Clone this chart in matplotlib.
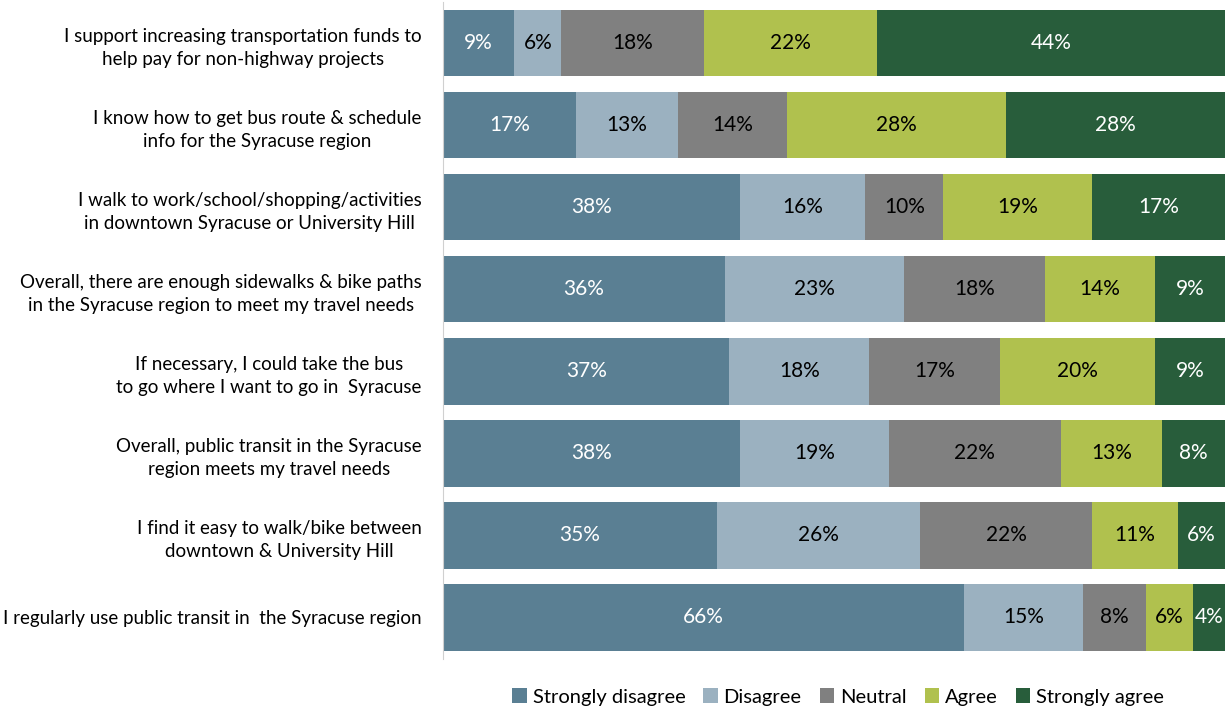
import numpy as np
import matplotlib
matplotlib.use('Agg')
from matplotlib import pyplot as plt

plt.rcParams['font.family'] = ['Lato', 'DejaVu Sans']

statements = [
    'I support increasing transportation funds to\nhelp pay for non-highway projects',
    'I know how to get bus route & schedule\ninfo for the Syracuse region',
    'I walk to work/school/shopping/activities\nin downtown Syracuse or University Hill',
    'Overall, there are enough sidewalks & bike paths\nin the Syracuse region to meet my travel needs',
    'If necessary, I could take the bus\nto go where I want to go in  Syracuse',
    'Overall, public transit in the Syracuse\nregion meets my travel needs',
    'I find it easy to walk/bike between\ndowntown & University Hill',
    'I regularly use public transit in  the Syracuse region',
]
responses = ['Strongly disagree', 'Disagree', 'Neutral', 'Agree', 'Strongly agree']

strongly_disagree = [9, 17, 38, 36, 37, 38, 35, 66]
disagree = [6, 13, 16, 23, 18, 19, 26, 15]
neutral = [18, 14, 10, 18, 17, 22, 22, 8]
agree = [22, 28, 19, 14, 20, 13, 11, 6]
strongly_agree = [44, 28, 17, 9, 9, 8, 6, 4]

colors = ['#5a7f93', '#9bb1c0', '#808080', '#b0c14e', '#285d3b']
text_colors = ['white', 'black', 'black', 'black', 'white']

values = np.array([strongly_disagree, disagree, neutral, agree, strongly_agree], dtype=float)
# 100% stacked: each row scaled to fill the axis
shares = values / values.sum(axis=0) * 100

fig = plt.figure(figsize=(12.25, 7.08), dpi=100)
ax = fig.add_axes([443 / 1225, 1 - 658.5 / 708, 1 - 443 / 1225, 656.5 / 708])

y = np.arange(len(statements))
left = np.zeros(len(statements))
for i, name in enumerate(responses):
    ax.barh(y, shares[i], left=left, height=0.81, color=colors[i], label=name)
    for j in range(len(statements)):
        ax.text(left[j] + shares[i][j] / 2, y[j], '%d%%' % values[i][j],
                ha='center', va='center', fontsize=15, color=text_colors[i])
    left += shares[i]

ax.set_xlim(0, 100)
ax.set_ylim(len(statements) - 0.5, -0.5)
ax.set_yticks(y)
ax.set_yticklabels(statements, fontsize=13.5, multialignment='center', linespacing=1.45)
ax.tick_params(axis='y', length=0, pad=15.5)
ax.set_xticks([])
for side in ['top', 'right', 'bottom']:
    ax.spines[side].set_visible(False)
ax.spines['left'].set_color('#d0d0d0')

fig.legend(loc='center', bbox_to_anchor=(838 / 1225, 1 - 697 / 708), ncol=5,
           frameon=False, fontsize=14.5, handlelength=0.7, handleheight=0.7,
           handletextpad=0.3, columnspacing=0.9)

plt.savefig('out.png', dpi=100)
